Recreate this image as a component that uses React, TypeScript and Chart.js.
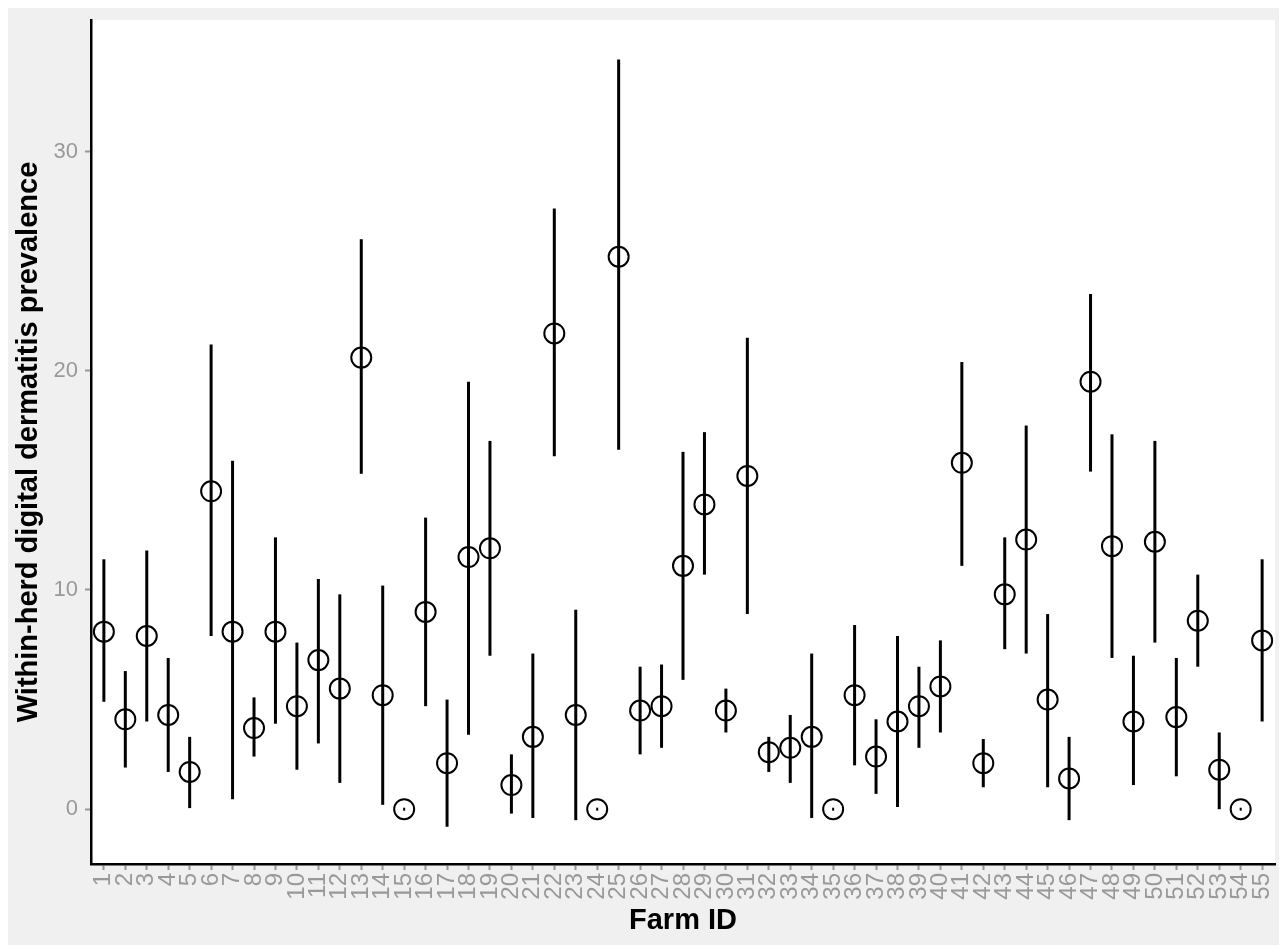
import React, { useEffect, useRef } from "react";
import { Chart, registerables } from "chart.js";

Chart.register(...registerables);

const farmIds = [
  1, 2, 3, 4, 5, 6, 7, 8, 9, 10, 11, 12, 13, 14, 15, 16, 17, 18, 19, 20,
  21, 22, 23, 24, 25, 26, 27, 28, 29, 30, 31, 32, 33, 34, 35, 36, 37, 38, 39, 40,
  41, 42, 43, 44, 45, 46, 47, 48, 49, 50, 51, 52, 53, 54, 55,
];

const prevalence = [
  8.1, 4.1, 7.9, 4.3, 1.7, 14.5, 8.1, 3.7, 8.1, 4.7,
  6.8, 5.5, 20.6, 5.2, 0, 9.0, 2.1, 11.5, 11.9, 1.1,
  3.3, 21.7, 4.3, 0, 25.2, 4.5, 4.7, 11.1, 13.9, 4.5,
  15.2, 2.6, 2.8, 3.3, 0, 5.2, 2.4, 4.0, 4.7, 5.6,
  15.8, 2.1, 9.8, 12.3, 5.0, 1.4, 19.5, 12.0, 4.0, 12.2,
  4.2, 8.6, 1.8, 0, 7.7,
];

const lower = [
  4.9, 1.9, 4.0, 1.7, 0.05, 7.9, 0.45, 2.4, 3.9, 1.8,
  3.0, 1.2, 15.3, 0.2, 0, 4.7, -0.8, 3.4, 7.0, -0.2,
  -0.4, 16.1, -0.5, 0, 16.4, 2.5, 2.8, 5.9, 10.7, 3.5,
  8.9, 1.7, 1.2, -0.4, 0, 2.0, 0.7, 0.1, 2.8, 3.5,
  11.1, 1.0, 7.3, 7.1, 1.0, -0.5, 15.4, 6.9, 1.1, 7.6,
  1.5, 6.5, 0.0, 0, 4.0,
];

const upper = [
  11.4, 6.3, 11.8, 6.9, 3.3, 21.2, 15.9, 5.1, 12.4, 7.6,
  10.5, 9.8, 26.0, 10.2, 0, 13.3, 5.0, 19.5, 16.8, 2.5,
  7.1, 27.4, 9.1, 0, 34.2, 6.5, 6.6, 16.3, 17.2, 5.5,
  21.5, 3.3, 4.3, 7.1, 0, 8.4, 4.1, 7.9, 6.5, 7.7,
  20.4, 3.2, 12.4, 17.5, 8.9, 3.3, 23.5, 17.1, 7.0, 16.8,
  6.9, 10.7, 3.5, 0, 11.4,
];

const yTicks = [0, 10, 20, 30];

const panelPlugin = {
  id: "panelBg",
  beforeDraw(chart: any) {
    const { ctx, chartArea } = chart;
    ctx.save();
    ctx.fillStyle = "#ffffff";
    ctx.fillRect(
      chartArea.left,
      chartArea.top,
      chartArea.right - chartArea.left,
      chartArea.bottom - chartArea.top
    );
    ctx.restore();
  },
};

const errorBarPlugin = {
  id: "errorBars",
  beforeDatasetsDraw(chart: any) {
    const { ctx, scales } = chart;
    const xs = scales.x;
    const ys = scales.y;
    ctx.save();
    ctx.strokeStyle = "#000000";
    ctx.fillStyle = "#000000";
    ctx.lineWidth = 3;
    ctx.lineCap = "butt";
    farmIds.forEach((id, i) => {
      const px = xs.getPixelForValue(id);
      const y1 = ys.getPixelForValue(lower[i]);
      const y2 = ys.getPixelForValue(upper[i]);
      if (Math.abs(upper[i] - lower[i]) < 1e-9) {
        ctx.fillRect(px - 1, y1 - 1.5, 2, 3);
      } else {
        ctx.beginPath();
        ctx.moveTo(px, y1);
        ctx.lineTo(px, y2);
        ctx.stroke();
      }
    });
    ctx.restore();
  },
};

export default function App() {
  const canvasRef = useRef<HTMLCanvasElement | null>(null);

  useEffect(() => {
    if (!canvasRef.current) return;
    const font = "'Liberation Sans', Arial, sans-serif";
    const chart = new Chart(canvasRef.current, {
      type: "scatter",
      data: {
        datasets: [
          {
            label: "Prevalence",
            data: farmIds.map((id, i) => ({ x: id, y: prevalence[i] })),
            pointStyle: "circle",
            pointRadius: 10,
            pointHoverRadius: 10,
            borderColor: "#000000",
            backgroundColor: "rgba(0,0,0,0)",
            borderWidth: 2,
            pointBorderWidth: 2,
          },
        ],
      },
      options: {
        responsive: false,
        animation: false,
        layout: { padding: { top: 11, right: 8, left: 0, bottom: 0 } },
        plugins: {
          legend: { display: false },
          tooltip: { enabled: false },
        },
        scales: {
          x: {
            type: "linear",
            min: 0.4,
            max: 55.6,
            afterBuildTicks: (scale: any) => {
              scale.ticks = farmIds.map((v) => ({ value: v }));
            },
            afterFit: (scale: any) => {
              scale.height = 81;
              scale.paddingLeft = 0;
              scale.paddingRight = 0;
            },
            border: { display: true, color: "#000000", width: 2.5 },
            grid: {
              drawOnChartArea: false,
              drawTicks: true,
              tickLength: 6,
              tickColor: "#999999",
              tickWidth: 2,
            },
            ticks: {
              autoSkip: false,
              minRotation: 90,
              maxRotation: 90,
              padding: 3,
              color: "#999999",
              font: { family: font, size: 24 },
              callback: (v: any) => String(v),
            },
            title: {
              display: true,
              text: "Farm ID",
              color: "#000000",
              font: { family: font, size: 29, weight: "bold" },
              padding: { top: 0, bottom: 7 },
            },
          },
          y: {
            type: "linear",
            min: -2.5,
            max: 36,
            afterBuildTicks: (scale: any) => {
              scale.ticks = yTicks.map((v) => ({ value: v }));
            },
            afterFit: (scale: any) => {
              scale.width = 83;
              scale.paddingTop = 0;
              scale.paddingBottom = 0;
            },
            border: { display: true, color: "#000000", width: 2.5 },
            grid: {
              drawOnChartArea: false,
              drawTicks: true,
              tickLength: 6,
              tickColor: "#999999",
              tickWidth: 2,
            },
            ticks: {
              padding: 7,
              color: "#999999",
              font: { family: font, size: 22 },
              callback: (v: any) => String(v),
            },
            title: {
              display: true,
              text: "Within-herd digital dermatitis prevalence",
              color: "#000000",
              font: { family: font, size: 29, weight: "bold" },
              padding: { top: 4, bottom: 0 },
            },
          },
        },
      },
      plugins: [panelPlugin, errorBarPlugin],
    } as any);
    return () => chart.destroy();
  }, []);

  return (
    <div style={{ width: 1279, height: 937, background: "#f0f0f0" }}>
      <canvas ref={canvasRef} width={1279} height={937} style={{ display: "block" }} />
    </div>
  );
}
